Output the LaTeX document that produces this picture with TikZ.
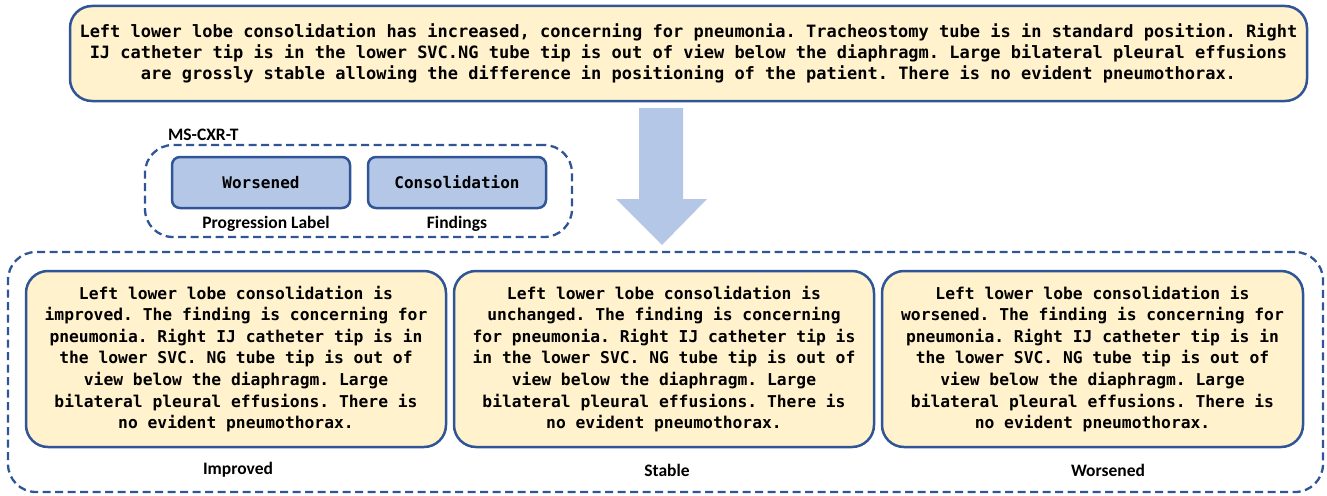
\documentclass[tikz,border=0pt]{standalone}
\usepackage{fontspec}
\setmonofont{DejaVu Sans Mono}
\setsansfont{Carlito}
\definecolor{ybg}{HTML}{FFF2CC}
\definecolor{bdr}{HTML}{2F5597}
\definecolor{lblue}{HTML}{B4C7E7}
\tikzset{
  ybox/.style={draw=bdr, line width=2.5pt, fill=ybg, rounded corners=22pt, align=center, inner sep=0pt, outer sep=0pt},
  bbox/.style={draw=bdr, line width=2.5pt, fill=lblue, rounded corners=8pt, align=center, inner sep=0pt, outer sep=0pt,
    minimum width=178pt, minimum height=51pt, font=\ttfamily\bfseries\fontsize{16}{19}\selectfont},
  dashbox/.style={draw=bdr, line width=2.3pt, dash pattern=on 8pt off 4.5pt, rounded corners=28pt, inner sep=0pt, outer sep=0pt},
  lab/.style={font=\sffamily\bfseries\fontsize{17.5}{20}\selectfont, inner sep=0pt},
  btext/.style={font=\ttfamily\bfseries\fontsize{16.3}{21.6}\selectfont},
}
\begin{document}
\begin{tikzpicture}[x=1pt,y=-1pt]
\useasboundingbox (0,0) rectangle (1327,495);
% top box
\node[ybox, minimum width=1237pt, minimum height=95pt, font=\ttfamily\bfseries\fontsize{17}{21}\selectfont] (top) at (688.5,53.5)
 {Left lower lobe consolidation has increased, concerning for pneumonia. Tracheostomy tube is in standard position. Right\\
  IJ catheter tip is in the lower SVC.NG tube tip is out of view below the diaphragm. Large bilateral pleural effusions\\
  are grossly stable allowing the difference in positioning of the patient. There is no evident pneumothorax.};
% MS-CXR-T group
\node[dashbox, minimum width=427pt, minimum height=92pt] (grp) at (358.5,191) {};
\node[lab, anchor=west] (grplab) at (168,135) {MS-CXR-T};
\node[bbox] (wors) at (261,182.5) {Worsened};
\node[bbox] (cons) at (457,182.5) {Consolidation};
\node[lab] (wlab) at (266,224) {Progression Label};
\node[lab] (clab) at (457,224) {Findings};
% block arrow
\fill[lblue] (639,108) -- (683,108) -- (683,199) -- (707,199) -- (662,245) -- (616,199) -- (639,199) -- cycle;
% bottom group
\node[dashbox, minimum width=1315pt, minimum height=240pt] (bottom) at (665.5,372) {};
\node[ybox, minimum width=420pt, minimum height=176pt, btext] (b1) at (236,359)
 {Left lower lobe consolidation is\\improved. The finding is concerning for\\pneumonia. Right IJ catheter tip is in\\the lower SVC. NG tube tip is out of\\view below the diaphragm. Large\\bilateral pleural effusions. There is\\no evident pneumothorax.};
\node[ybox, minimum width=420pt, minimum height=176pt, btext] (b2) at (664,359)
 {Left lower lobe consolidation is\\unchanged. The finding is concerning\\for pneumonia. Right IJ catheter tip is\\in the lower SVC. NG tube tip is out of\\view below the diaphragm. Large\\bilateral pleural effusions. There is\\no evident pneumothorax.};
\node[ybox, minimum width=421pt, minimum height=176pt, btext] (b3) at (1092.5,359)
 {Left lower lobe consolidation is\\worsened. The finding is concerning for\\pneumonia. Right IJ catheter tip is in\\the lower SVC. NG tube tip is out of\\view below the diaphragm. Large\\bilateral pleural effusions. There is\\no evident pneumothorax.};
\node[lab] (l1) at (238,470) {Improved};
\node[lab] (l2) at (667,470) {Stable};
\node[lab] (l3) at (1108,470) {Worsened};
\end{tikzpicture}
\end{document}
